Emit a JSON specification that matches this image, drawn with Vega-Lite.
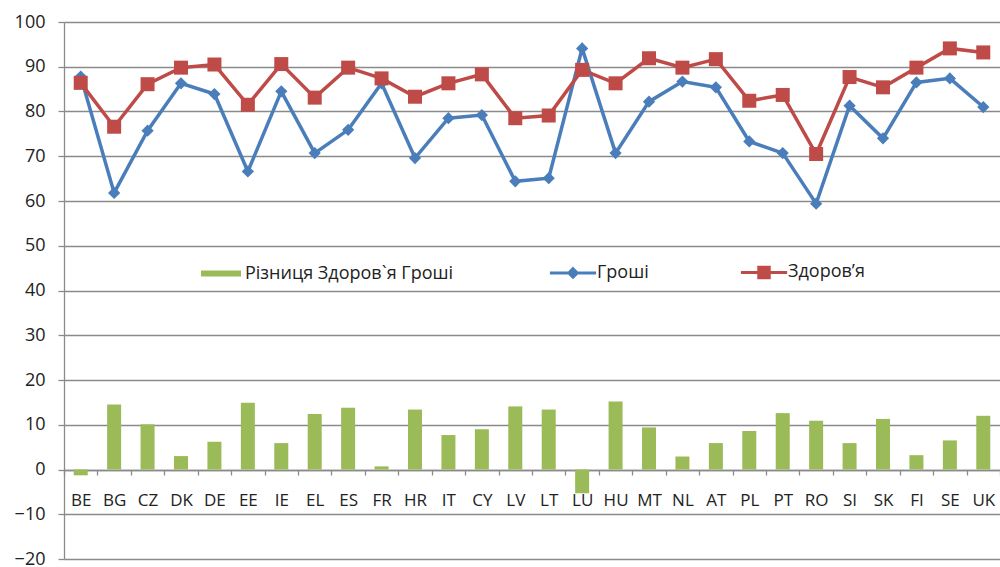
{
  "$schema": "https://vega.github.io/schema/vega-lite/v6.json",
  "autosize": {"type": "none"},
  "width": 936,
  "height": 537,
  "padding": {"left": 64, "top": 22, "right": 0, "bottom": 8},
  "background": "white",
  "config": {
    "view": {"stroke": null},
    "font": "Open Sans",
    "axis": {"labelFont": "Open Sans", "labelColor": "#222", "labelFontSize": 17, "domainColor": "#8a8a8a", "tickColor": "#8a8a8a", "gridColor": "#8a8a8a", "domainWidth": 1.3, "gridWidth": 1.3, "tickWidth": 1.3}
  },
  "data": {
    "values": [
      {"c":"BE","s":"Гроші","v":87.8},{"c":"BE","s":"Здоров’я","v":86.4},{"c":"BE","s":"Різниця Здоров`я  Гроші","v":-1.3},
      {"c":"BG","s":"Гроші","v":61.8},{"c":"BG","s":"Здоров’я","v":76.6},{"c":"BG","s":"Різниця Здоров`я  Гроші","v":14.5},
      {"c":"CZ","s":"Гроші","v":75.7},{"c":"CZ","s":"Здоров’я","v":86.1},{"c":"CZ","s":"Різниця Здоров`я  Гроші","v":10.1},
      {"c":"DK","s":"Гроші","v":86.3},{"c":"DK","s":"Здоров’я","v":89.8},{"c":"DK","s":"Різниця Здоров`я  Гроші","v":3.0},
      {"c":"DE","s":"Гроші","v":83.9},{"c":"DE","s":"Здоров’я","v":90.5},{"c":"DE","s":"Різниця Здоров`я  Гроші","v":6.2},
      {"c":"EE","s":"Гроші","v":66.6},{"c":"EE","s":"Здоров’я","v":81.5},{"c":"EE","s":"Різниця Здоров`я  Гроші","v":14.9},
      {"c":"IE","s":"Гроші","v":84.5},{"c":"IE","s":"Здоров’я","v":90.6},{"c":"IE","s":"Різниця Здоров`я  Гроші","v":5.9},
      {"c":"EL","s":"Гроші","v":70.7},{"c":"EL","s":"Здоров’я","v":83.1},{"c":"EL","s":"Різниця Здоров`я  Гроші","v":12.4},
      {"c":"ES","s":"Гроші","v":75.9},{"c":"ES","s":"Здоров’я","v":89.8},{"c":"ES","s":"Різниця Здоров`я  Гроші","v":13.8},
      {"c":"FR","s":"Гроші","v":86.3},{"c":"FR","s":"Здоров’я","v":87.4},{"c":"FR","s":"Різниця Здоров`я  Гроші","v":0.7},
      {"c":"HR","s":"Гроші","v":69.6},{"c":"HR","s":"Здоров’я","v":83.3},{"c":"HR","s":"Різниця Здоров`я  Гроші","v":13.4},
      {"c":"IT","s":"Гроші","v":78.5},{"c":"IT","s":"Здоров’я","v":86.3},{"c":"IT","s":"Різниця Здоров`я  Гроші","v":7.7},
      {"c":"CY","s":"Гроші","v":79.2},{"c":"CY","s":"Здоров’я","v":88.3},{"c":"CY","s":"Різниця Здоров`я  Гроші","v":9.0},
      {"c":"LV","s":"Гроші","v":64.4},{"c":"LV","s":"Здоров’я","v":78.5},{"c":"LV","s":"Різниця Здоров`я  Гроші","v":14.1},
      {"c":"LT","s":"Гроші","v":65.1},{"c":"LT","s":"Здоров’я","v":79.1},{"c":"LT","s":"Різниця Здоров`я  Гроші","v":13.4},
      {"c":"LU","s":"Гроші","v":94.1},{"c":"LU","s":"Здоров’я","v":89.3},{"c":"LU","s":"Різниця Здоров`я  Гроші","v":-5.3},
      {"c":"HU","s":"Гроші","v":70.7},{"c":"HU","s":"Здоров’я","v":86.3},{"c":"HU","s":"Різниця Здоров`я  Гроші","v":15.2},
      {"c":"MT","s":"Гроші","v":82.2},{"c":"MT","s":"Здоров’я","v":91.9},{"c":"MT","s":"Різниця Здоров`я  Гроші","v":9.4},
      {"c":"NL","s":"Гроші","v":86.7},{"c":"NL","s":"Здоров’я","v":89.8},{"c":"NL","s":"Різниця Здоров`я  Гроші","v":2.9},
      {"c":"AT","s":"Гроші","v":85.4},{"c":"AT","s":"Здоров’я","v":91.7},{"c":"AT","s":"Різниця Здоров`я  Гроші","v":5.9},
      {"c":"PL","s":"Гроші","v":73.3},{"c":"PL","s":"Здоров’я","v":82.4},{"c":"PL","s":"Різниця Здоров`я  Гроші","v":8.6},
      {"c":"PT","s":"Гроші","v":70.7},{"c":"PT","s":"Здоров’я","v":83.7},{"c":"PT","s":"Різниця Здоров`я  Гроші","v":12.6},
      {"c":"RO","s":"Гроші","v":59.4},{"c":"RO","s":"Здоров’я","v":70.5},{"c":"RO","s":"Різниця Здоров`я  Гроші","v":10.9},
      {"c":"SI","s":"Гроші","v":81.3},{"c":"SI","s":"Здоров’я","v":87.7},{"c":"SI","s":"Різниця Здоров`я  Гроші","v":5.9},
      {"c":"SK","s":"Гроші","v":74.0},{"c":"SK","s":"Здоров’я","v":85.4},{"c":"SK","s":"Різниця Здоров`я  Гроші","v":11.3},
      {"c":"FI","s":"Гроші","v":86.5},{"c":"FI","s":"Здоров’я","v":89.8},{"c":"FI","s":"Різниця Здоров`я  Гроші","v":3.2},
      {"c":"SE","s":"Гроші","v":87.4},{"c":"SE","s":"Здоров’я","v":94.1},{"c":"SE","s":"Різниця Здоров`я  Гроші","v":6.5},
      {"c":"UK","s":"Гроші","v":81.0},{"c":"UK","s":"Здоров’я","v":93.2},{"c":"UK","s":"Різниця Здоров`я  Гроші","v":12.0}
    ]
  },
  "encoding": {
    "x": {"field": "c", "type": "nominal", "sort": null,
      "scale": {"paddingInner": 0, "paddingOuter": 0},
      "axis": {"title": null, "orient": "bottom", "offset": -89, "labelAngle": 0, "tickBand": "extent", "tickSize": 5, "labelPadding": 17, "grid": false, "domainColor": "#8a8a8a"}},
    "y": {"field": "v", "type": "quantitative",
      "scale": {"domain": [-20, 100], "nice": false, "zero": false},
      "axis": {"title": null, "values": [-20,-10,0,10,20,30,40,50,60,70,80,90,100], "tickSize": 6, "labelPadding": 13, "labelFontSize": 18, "grid": true}},
    "color": {"field": "s", "type": "nominal",
      "scale": {"domain": ["Різниця Здоров`я  Гроші", "Гроші", "Здоров’я"], "range": ["#9BBB59", "#4A7EBB", "#BE4B48"]},
      "legend": {
        "title": null, "orient": "none", "direction": "horizontal", "legendX": 148, "legendY": 241,
        "padding": 0, "columnPadding": 85, "labelFont": "Open Sans", "labelFontSize": 18, "labelColor": "#222", "labelLimit": 0,
        "symbolSize": 196, "labelOffset": 15,
        "encode": {
          "symbols": {"update": {
            "shape": {"signal": "datum.value == 'Гроші' ? 'M-3.3,0H3.3M0,-0.6L0.6,0L0,0.6L-0.6,0Z' : datum.value == 'Здоров’я' ? 'M-3.3,0H3.3M-0.75,-0.75H0.75V0.75H-0.75Z' : 'M-2.86,-0.43H2.86V0.43H-2.86Z'"},
            "fill": {"signal": "scale('color', datum.value)"},
            "stroke": {"signal": "scale('color', datum.value)"},
            "strokeWidth": {"signal": "datum.value == 'Різниця Здоров`я  Гроші' ? 0 : 3"},
            "opacity": {"value": 1},
            "fillOpacity": {"value": 1},
            "strokeOpacity": {"value": 1}
          }}
        }
      }}
  },
  "layer": [
    {"transform": [{"filter": "datum.s == 'Різниця Здоров`я  Гроші'"}], "mark": {"type": "bar", "size": 14}},
    {"transform": [{"filter": "datum.s == 'Гроші'"}], "mark": {"type": "line", "strokeWidth": 3.5}},
    {"transform": [{"filter": "datum.s == 'Гроші'"}], "mark": {"type": "point", "shape": "diamond", "filled": true, "size": 150, "opacity": 1}},
    {"transform": [{"filter": "datum.s == 'Здоров’я'"}], "mark": {"type": "line", "strokeWidth": 3.5}},
    {"transform": [{"filter": "datum.s == 'Здоров’я'"}], "mark": {"type": "point", "shape": "square", "filled": true, "size": 196, "opacity": 1}}
  ]
}
